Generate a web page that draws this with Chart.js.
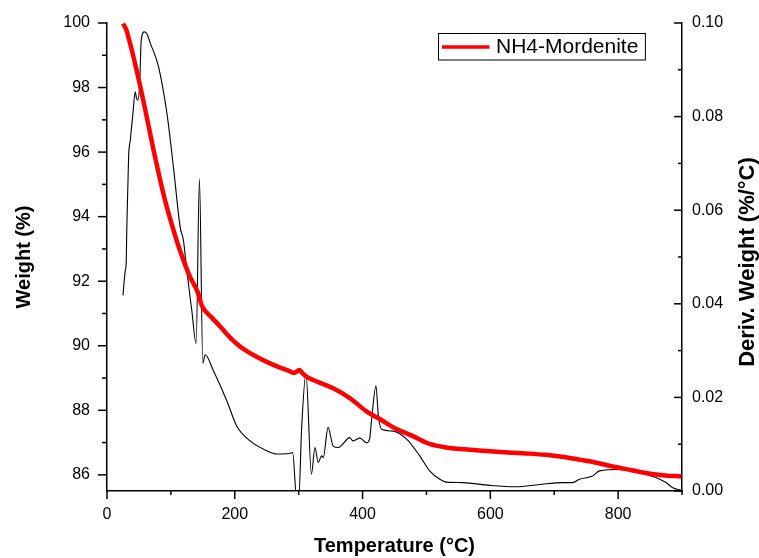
<!DOCTYPE html>
<html><head><meta charset="utf-8">
<script src="https://cdn.jsdelivr.net/npm/chart.js@4.4.1/dist/chart.umd.min.js"></script>
<style>html,body{margin:0;padding:0;background:#fff;overflow:hidden;}</style>
</head><body><canvas id="c" width="759" height="558"></canvas>
<script>
const tgaTemp   = [25,30,35,40,45,50,55,60,65,73,80,90,99,110,120,130,140,144,147,150,156,165,172,185,198,210,220,235,250,270,285,292,297,301,305,310,316,330,354,380,406,427,450,479,505,531,560,599,650,687,720,740,770,792,820,843,870,899];
const tgaWeight = [99.98,99.8,99.45,99.07,98.65,98.22,97.77,97.3,96.82,96.05,95.42,94.57,93.92,93.2,92.63,92.13,91.75,91.55,91.33,91.18,91.03,90.85,90.71,90.42,90.15,89.95,89.82,89.65,89.5,89.33,89.22,89.16,89.2,89.25,89.17,89.08,89.0,88.88,88.68,88.38,87.97,87.73,87.45,87.2,86.96,86.85,86.79,86.73,86.67,86.62,86.54,86.47,86.36,86.26,86.15,86.06,85.99,85.95];
const dtgTemp  = [25,28.6,30,31,33.8,36.4,40.6,44.2,46,47.8,51,53.6,58.3,62,67.7,80.6,93.8,104,114.5,119.7,125,132.8,139.5,144.7,150,153.6,166.6,187.5,203,224,250,265.6,286,290.6,297,300,304.7,311.4,320,325.5,330.6,336,338.5,346,354,362,380,385,396,406,411,414,421,424.5,429.7,448,469,489.5,505,521,531,557,599,640,677,713,729,739.5,760,771,802,823,859,875,885.5,898];
const dtgDeriv = [0.0418,0.0471,0.0486,0.0560,0.0714,0.0749,0.0807,0.0853,0.0840,0.0835,0.0864,0.0964,0.0981,0.0978,0.0957,0.0907,0.0807,0.0692,0.0564,0.0535,0.0470,0.0385,0.0315,0.0667,0.0273,0.0291,0.0257,0.0193,0.0139,0.0107,0.0086,0.0079,0.0080,0.0082,-0.002,-0.002,0.0136,0.0251,0.0036,0.0093,0.0061,0.0075,0.0071,0.0136,0.0096,0.0093,0.0114,0.0107,0.0113,0.0103,0.0111,0.0150,0.0225,0.0164,0.0132,0.0128,0.0111,0.0075,0.0043,0.0025,0.0019,0.0018,0.0012,0.0009,0.0014,0.0018,0.0018,0.0025,0.0032,0.0043,0.0046,0.0043,0.0029,0.0018,0.0007,0.0002];
const xTicks = [0,200,400,600,800];
const xMinorTicks = [100,300,500,700,900];
const weightTicks = [86,88,90,92,94,96,98,100];
const weightMinorTicks = [87,89,91,93,95,97,99];
const derivTicks = [0,0.02,0.04,0.06,0.08,0.10];
const derivMinorTicks = [0.01,0.03,0.05,0.07,0.09];
const seriesLabel = 'NH4-Mordenite';
const xTitle = 'Temperature (°C)';
const yTitle = 'Weight (%)';
const y1Title = 'Deriv. Weight (%/°C)';

const FONT = '"Liberation Sans", Arial, sans-serif';
Chart.defaults.font.family = FONT;
Chart.defaults.color = '#000';

const noPad = s => { s.paddingTop = 0; s.paddingBottom = 0; s.paddingLeft = 0; s.paddingRight = 0; };

const extras = {
  id: 'extras',
  afterDraw(chart) {
    const ctx = chart.ctx, a = chart.chartArea;
    const sx = chart.scales.x, sy = chart.scales.y, sy1 = chart.scales.y1;
    ctx.save();
    ctx.strokeStyle = '#000'; ctx.lineWidth = 1.5; ctx.lineCap = 'butt';
    const line = (x1,y1,x2,y2) => { ctx.beginPath(); ctx.moveTo(x1,y1); ctx.lineTo(x2,y2); ctx.stroke(); };
    xTicks.forEach(v => { const p = sx.getPixelForValue(v); line(p, a.bottom, p, a.bottom + 8); });
    xMinorTicks.forEach(v => { const p = sx.getPixelForValue(v); line(p, a.bottom, p, a.bottom + 4); });
    weightTicks.forEach(v => { const p = sy.getPixelForValue(v); line(a.left - 9, p, a.left, p); });
    weightMinorTicks.forEach(v => { const p = sy.getPixelForValue(v); line(a.left - 5, p, a.left, p); });
    derivTicks.forEach(v => { const p = sy1.getPixelForValue(v); line(a.right - 8, p, a.right, p); });
    derivMinorTicks.forEach(v => { const p = sy1.getPixelForValue(v); line(a.right - 4, p, a.right, p); });
    // right axis title (reads bottom to top)
    ctx.save();
    ctx.translate(748, (a.top + a.bottom) / 2 + 5);
    ctx.rotate(-Math.PI / 2);
    ctx.font = 'bold 22px ' + FONT;
    ctx.fillStyle = '#000'; ctx.textAlign = 'center'; ctx.textBaseline = 'middle';
    ctx.fillText(y1Title, 0, 0);
    ctx.restore();
    // legend box
    const ds = chart.data.datasets[0];
    ctx.font = '21px ' + FONT;
    const tw = ctx.measureText(ds.label).width;
    const bx = a.left + 331.5, by = a.top + 10.5, bh = 26.5;
    const bw = 7 + 48 + 6.5 + tw + 3;
    ctx.lineWidth = 1; ctx.strokeStyle = '#000';
    ctx.fillStyle = '#fff'; ctx.fillRect(bx, by, bw, bh);
    ctx.strokeRect(bx, by, bw, bh);
    ctx.strokeStyle = ds.borderColor; ctx.lineWidth = 3.5;
    line(bx + 3.5, by + 13.5, bx + 51, by + 13.5);
    ctx.fillStyle = '#000'; ctx.textAlign = 'left'; ctx.textBaseline = 'middle';
    ctx.fillText(ds.label, bx + 57.5, by + 14);
    ctx.restore();
  }
};

new Chart(document.getElementById('c'), {
  type: 'line',
  data: {
    datasets: [
      { label: seriesLabel, data: tgaTemp.map((t,i) => ({x: t, y: tgaWeight[i]})), yAxisID: 'y',
        borderColor: '#ff0000', borderWidth: 4.5, pointRadius: 0, cubicInterpolationMode: 'monotone', fill: false },
      { label: 'DTG', data: dtgTemp.map((t,i) => ({x: t, y: dtgDeriv[i]})), yAxisID: 'y1',
        borderColor: '#000000', borderWidth: 1.1, pointRadius: 0, cubicInterpolationMode: 'monotone', fill: false }
    ]
  },
  options: {
    responsive: false, animation: false, devicePixelRatio: 1,
    layout: { padding: { top: 23, left: 0, right: 0, bottom: 0 } },
    plugins: { legend: { display: false }, tooltip: { enabled: false } },
    scales: {
      x: {
        type: 'linear', position: 'bottom', min: 0, max: 900,
        afterBuildTicks: s => { s.ticks = xTicks.map(v => ({value: v})); },
        afterFit: s => { s.height = 67; noPad(s); },
        grid: { display: false, drawTicks: false },
        border: { display: true, color: '#000', width: 1.5 },
        ticks: { font: { size: 16 }, color: '#000', padding: 14, maxRotation: 0, callback: v => String(v) },
        title: { display: true, text: xTitle, font: { size: 20, weight: 'bold' }, color: '#000', padding: { top: 0, bottom: 0 } }
      },
      y: {
        type: 'linear', position: 'left', min: 85.5, max: 100,
        afterBuildTicks: s => { s.ticks = weightTicks.map(v => ({value: v})); },
        afterFit: s => { s.width = 107; noPad(s); },
        grid: { display: false, drawTicks: false },
        border: { display: true, color: '#000', width: 1.5 },
        ticks: { font: { size: 16 }, color: '#000', padding: 17, callback: v => String(v) },
        title: { display: true, text: yTitle, font: { size: 20, weight: 'bold' }, color: '#000', padding: { top: 12, bottom: 0 } }
      },
      y1: {
        type: 'linear', position: 'right', min: 0, max: 0.1,
        afterBuildTicks: s => { s.ticks = derivTicks.map(v => ({value: v})); },
        afterFit: s => { s.width = 77; noPad(s); },
        grid: { display: false, drawTicks: false },
        border: { display: true, color: '#000', width: 1.5 },
        ticks: { font: { size: 16 }, color: '#000', padding: 10, callback: v => Number(v).toFixed(2) }
      }
    }
  },
  plugins: [extras]
});
</script></body></html>
